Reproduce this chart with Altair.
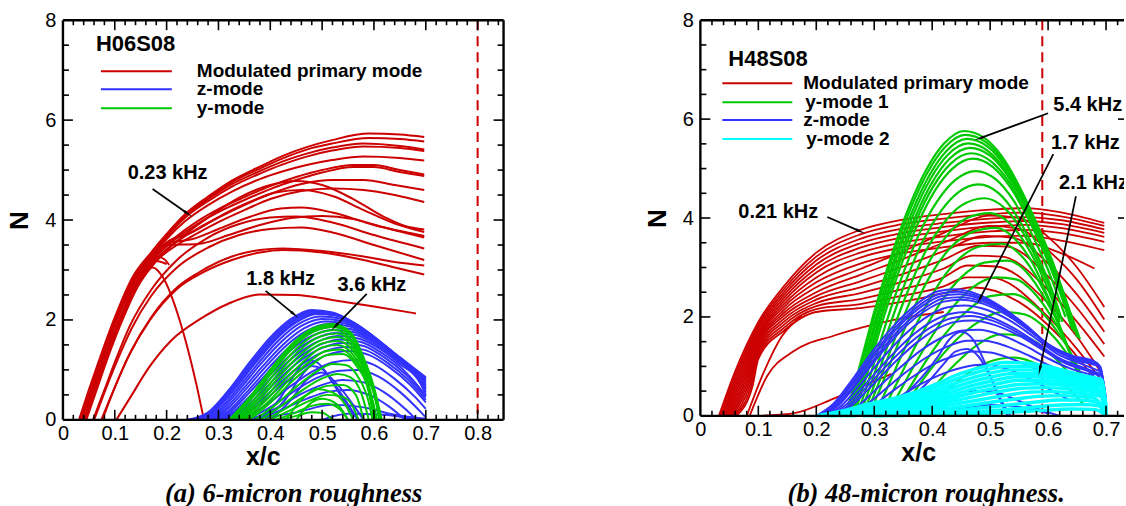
import math
import altair as alt
import pandas as pd

FONT = "Liberation Sans"
SERIF = "Liberation Serif"
RED, BLUE, GREEN, CYAN = "#cc0000", "#3333ff", "#00c800", "#00ffff"

# panel geometry (plot areas, in pixels) and x ranges
W_L, H_L, XMAX_L = 441, 400, 0.85
W_R, H_R, XMAX_R = 424, 396, 0.731

# ---------------- H06S08 : N-factor curves (x/c, N) ----------------
h06_primary = [
    [(0.031, 0), (0.05, 0.6), (0.07, 1.2), (0.10, 2.05), (0.134, 2.85), (0.17, 3.35), (0.2, 3.72), (0.236, 4.12), (0.28, 4.47), (0.326, 4.79), (0.38, 5.07), (0.423, 5.28), (0.47, 5.46), (0.519, 5.6), (0.59, 5.73), (0.65, 5.71), (0.697, 5.66)],
    [(0.033, 0), (0.052, 0.6), (0.072, 1.2), (0.10, 1.98), (0.134, 2.8), (0.17, 3.32), (0.2, 3.7), (0.236, 4.1), (0.28, 4.45), (0.326, 4.76), (0.38, 5.03), (0.423, 5.23), (0.47, 5.41), (0.519, 5.53), (0.59, 5.64), (0.65, 5.62), (0.697, 5.57)],
    [(0.035, 0), (0.054, 0.6), (0.074, 1.2), (0.10, 1.95), (0.134, 2.78), (0.17, 3.3), (0.2, 3.68), (0.236, 4.08), (0.28, 4.42), (0.326, 4.72), (0.38, 4.98), (0.423, 5.17), (0.47, 5.33), (0.519, 5.45), (0.58, 5.53), (0.65, 5.48), (0.697, 5.41)],
    [(0.036, 0), (0.055, 0.6), (0.075, 1.2), (0.10, 1.93), (0.134, 2.76), (0.17, 3.28), (0.2, 3.66), (0.236, 4.05), (0.28, 4.38), (0.326, 4.67), (0.38, 4.93), (0.423, 5.11), (0.47, 5.27), (0.519, 5.39), (0.58, 5.47), (0.65, 5.44), (0.697, 5.38)],
    [(0.037, 0), (0.056, 0.6), (0.076, 1.2), (0.10, 1.9), (0.134, 2.72), (0.17, 3.25), (0.2, 3.62), (0.236, 3.98), (0.28, 4.3), (0.326, 4.57), (0.38, 4.82), (0.423, 4.97), (0.47, 5.1), (0.519, 5.2), (0.58, 5.27), (0.65, 5.24), (0.697, 5.19)],
    [(0.040, 0), (0.06, 0.6), (0.08, 1.2), (0.105, 1.9), (0.14, 2.72), (0.18, 3.3), (0.22, 3.68), (0.26, 3.98), (0.3, 4.22), (0.35, 4.46), (0.4, 4.68), (0.45, 4.86), (0.5, 5.0), (0.56, 5.1), (0.6, 5.1), (0.65, 5.0), (0.697, 4.91)],
    [(0.041, 0), (0.061, 0.6), (0.081, 1.2), (0.106, 1.88), (0.141, 2.7), (0.18, 3.27), (0.22, 3.64), (0.26, 3.93), (0.3, 4.16), (0.35, 4.4), (0.4, 4.62), (0.45, 4.8), (0.5, 4.95), (0.56, 5.06), (0.6, 5.06), (0.65, 4.96), (0.697, 4.88)],
    [(0.042, 0), (0.062, 0.6), (0.082, 1.2), (0.107, 1.87), (0.142, 2.68), (0.18, 3.22), (0.22, 3.57), (0.26, 3.83), (0.3, 4.05), (0.35, 4.3), (0.4, 4.52), (0.46, 4.72), (0.52, 4.8), (0.58, 4.8), (0.64, 4.7), (0.697, 4.6)],
    [(0.043, 0), (0.063, 0.6), (0.083, 1.2), (0.108, 1.86), (0.143, 2.66), (0.18, 3.18), (0.22, 3.5), (0.26, 3.74), (0.3, 3.96), (0.35, 4.2), (0.4, 4.42), (0.46, 4.58), (0.52, 4.63), (0.58, 4.6), (0.64, 4.5), (0.697, 4.36)],
    [(0.045, 0), (0.065, 0.6), (0.085, 1.2), (0.11, 1.88), (0.145, 2.68), (0.18, 3.18), (0.22, 3.58), (0.28, 4.05), (0.34, 4.45), (0.4, 4.7), (0.45, 4.78), (0.5, 4.7), (0.56, 4.42), (0.62, 4.06), (0.66, 3.88), (0.697, 3.81)],
    [(0.04, 0), (0.06, 0.6), (0.08, 1.2), (0.105, 1.9), (0.14, 2.72), (0.17, 3.2), (0.2, 3.55), (0.25, 3.76), (0.3, 4.06), (0.36, 4.36), (0.41, 4.55), (0.46, 4.6), (0.52, 4.48), (0.58, 4.2), (0.64, 3.93), (0.697, 3.76)],
    [(0.041, 0), (0.061, 0.6), (0.081, 1.2), (0.106, 1.9), (0.141, 2.7), (0.17, 3.18), (0.2, 3.53), (0.25, 3.62), (0.3, 3.82), (0.36, 4.06), (0.42, 4.23), (0.46, 4.25), (0.52, 4.15), (0.6, 3.9), (0.697, 3.68)],
    [(0.042, 0), (0.062, 0.6), (0.082, 1.2), (0.107, 1.88), (0.142, 2.68), (0.17, 3.15), (0.2, 3.5), (0.26, 3.52), (0.32, 3.7), (0.38, 3.9), (0.44, 4.04), (0.5, 4.08), (0.56, 4.02), (0.62, 3.85), (0.697, 3.65)],
    [(0.058, 0), (0.08, 0.6), (0.1, 1.15), (0.13, 1.9), (0.17, 2.6), (0.22, 3.2), (0.28, 3.65), (0.34, 3.92), (0.4, 4.05), (0.45, 4.07), (0.52, 3.95), (0.6, 3.7), (0.697, 3.43)],
    [(0.06, 0), (0.082, 0.6), (0.102, 1.12), (0.132, 1.82), (0.17, 2.48), (0.22, 3.05), (0.28, 3.45), (0.34, 3.7), (0.4, 3.82), (0.46, 3.85), (0.52, 3.75), (0.6, 3.5), (0.697, 3.2)],
    [(0.076, 0), (0.1, 0.65), (0.13, 1.35), (0.17, 2.05), (0.22, 2.65), (0.262, 2.95), (0.326, 3.27), (0.38, 3.4), (0.423, 3.43), (0.5, 3.38), (0.58, 3.27), (0.64, 3.16), (0.697, 3.09)],
    [(0.074, 0), (0.098, 0.6), (0.128, 1.3), (0.168, 2.0), (0.22, 2.62), (0.27, 2.95), (0.326, 3.2), (0.38, 3.35), (0.423, 3.4), (0.5, 3.35), (0.58, 3.2), (0.64, 3.05), (0.697, 2.91)],
    [(0.103, 0), (0.13, 0.45), (0.166, 1.05), (0.21, 1.6), (0.262, 2.0), (0.32, 2.33), (0.379, 2.51), (0.45, 2.5), (0.519, 2.4), (0.6, 2.27), (0.681, 2.13)],
    [(0.038, 0), (0.057, 0.6), (0.077, 1.2), (0.10, 1.88), (0.134, 2.65), (0.16, 2.98), (0.173, 3.05), (0.193, 2.85), (0.225, 2.0), (0.257, 0.73), (0.272, 0)],
    [(0.036, 0), (0.055, 0.6), (0.075, 1.2), (0.10, 1.92), (0.134, 2.74), (0.16, 3.12), (0.18, 3.27), (0.195, 3.22), (0.205, 3.1)],
    [(0.038, 0), (0.057, 0.6), (0.077, 1.2), (0.10, 1.9), (0.134, 2.7), (0.16, 3.06), (0.18, 3.18), (0.2, 3.12)],
]

h06_zmode = [
    [(0.24, 0), (0.28, 0.15), (0.32, 0.6), (0.36, 1.15), (0.40, 1.65), (0.44, 2.02), (0.48, 2.2), (0.52, 2.15), (0.56, 1.95), (0.6, 1.65), (0.65, 1.25), (0.7, 0.85)],
    [(0.243, 0), (0.283, 0.15), (0.323, 0.6), (0.363, 1.14), (0.403, 1.64), (0.443, 2.0), (0.483, 2.18), (0.523, 2.13), (0.563, 1.93), (0.603, 1.63), (0.653, 1.22), (0.7, 0.83)],
    [(0.245, 0), (0.285, 0.15), (0.325, 0.6), (0.365, 1.13), (0.405, 1.62), (0.445, 1.98), (0.485, 2.16), (0.525, 2.11), (0.565, 1.91), (0.605, 1.61), (0.655, 1.2), (0.7, 0.82)],
    [(0.248, 0), (0.288, 0.15), (0.328, 0.6), (0.368, 1.12), (0.408, 1.61), (0.448, 1.96), (0.488, 2.14), (0.528, 2.1), (0.568, 1.9), (0.608, 1.6), (0.658, 1.17), (0.7, 0.8)],
    [(0.25, 0), (0.29, 0.15), (0.33, 0.6), (0.37, 1.12), (0.41, 1.6), (0.45, 1.95), (0.49, 2.12), (0.53, 2.08), (0.57, 1.88), (0.61, 1.58), (0.66, 1.15), (0.7, 0.78)],
    [(0.255, 0), (0.295, 0.15), (0.335, 0.6), (0.375, 1.11), (0.415, 1.58), (0.455, 1.92), (0.495, 2.07), (0.535, 2.03), (0.575, 1.83), (0.615, 1.53), (0.66, 1.13), (0.7, 0.75)],
    [(0.26, 0), (0.3, 0.15), (0.34, 0.6), (0.38, 1.1), (0.42, 1.55), (0.46, 1.88), (0.5, 2.02), (0.54, 1.98), (0.58, 1.78), (0.62, 1.48), (0.66, 1.12), (0.7, 0.72)],
    [(0.265, 0), (0.305, 0.15), (0.345, 0.59), (0.385, 1.07), (0.425, 1.51), (0.465, 1.83), (0.505, 1.97), (0.545, 1.93), (0.585, 1.73), (0.625, 1.43), (0.665, 1.07), (0.7, 0.69)],
    [(0.27, 0), (0.31, 0.15), (0.35, 0.58), (0.39, 1.05), (0.43, 1.48), (0.47, 1.78), (0.51, 1.92), (0.55, 1.88), (0.59, 1.68), (0.63, 1.38), (0.67, 1.02), (0.7, 0.66)],
    [(0.275, 0), (0.315, 0.14), (0.355, 0.56), (0.395, 1.02), (0.435, 1.44), (0.475, 1.73), (0.515, 1.86), (0.555, 1.82), (0.595, 1.62), (0.635, 1.33), (0.675, 0.96), (0.7, 0.63)],
    [(0.28, 0), (0.32, 0.14), (0.36, 0.55), (0.40, 1.0), (0.44, 1.4), (0.48, 1.68), (0.52, 1.8), (0.56, 1.76), (0.6, 1.57), (0.64, 1.28), (0.68, 0.9), (0.7, 0.6)],
    [(0.285, 0), (0.325, 0.13), (0.365, 0.52), (0.405, 0.96), (0.445, 1.35), (0.485, 1.62), (0.525, 1.74), (0.565, 1.7), (0.605, 1.5), (0.645, 1.2), (0.685, 0.82), (0.7, 0.55)],
    [(0.29, 0), (0.33, 0.13), (0.37, 0.5), (0.41, 0.93), (0.45, 1.3), (0.49, 1.56), (0.53, 1.68), (0.57, 1.63), (0.61, 1.43), (0.65, 1.12), (0.69, 0.72), (0.7, 0.5)],
    [(0.295, 0), (0.335, 0.12), (0.375, 0.47), (0.415, 0.89), (0.455, 1.25), (0.495, 1.5), (0.535, 1.61), (0.575, 1.56), (0.615, 1.34), (0.655, 1.02), (0.695, 0.55), (0.7, 0.48)],
    [(0.30, 0), (0.34, 0.12), (0.38, 0.45), (0.42, 0.85), (0.46, 1.2), (0.5, 1.44), (0.54, 1.54), (0.58, 1.48), (0.62, 1.25), (0.66, 0.92), (0.7, 0.45)],
    [(0.305, 0), (0.345, 0.11), (0.385, 0.42), (0.425, 0.8), (0.465, 1.14), (0.505, 1.37), (0.545, 1.46), (0.585, 1.39), (0.625, 1.15), (0.665, 0.81), (0.7, 0.4)],
    [(0.31, 0), (0.35, 0.11), (0.39, 0.4), (0.43, 0.76), (0.47, 1.08), (0.51, 1.3), (0.55, 1.38), (0.59, 1.3), (0.63, 1.05), (0.67, 0.7), (0.7, 0.35)],
    [(0.32, 0), (0.36, 0.1), (0.4, 0.36), (0.44, 0.68), (0.48, 0.96), (0.52, 1.15), (0.56, 1.2), (0.6, 1.1), (0.64, 0.82), (0.68, 0.45), (0.7, 0.22)],
    [(0.33, 0), (0.37, 0.09), (0.41, 0.32), (0.45, 0.6), (0.49, 0.84), (0.53, 0.98), (0.57, 1.0), (0.61, 0.86), (0.65, 0.56), (0.69, 0.16), (0.7, 0.05)],
    [(0.34, 0), (0.38, 0.08), (0.42, 0.28), (0.46, 0.52), (0.5, 0.7), (0.54, 0.8), (0.58, 0.75), (0.62, 0.55), (0.66, 0.22), (0.68, 0.02)],
    [(0.35, 0), (0.39, 0.07), (0.43, 0.24), (0.47, 0.42), (0.51, 0.56), (0.55, 0.6), (0.59, 0.5), (0.63, 0.26), (0.66, 0.0)],
    [(0.36, 0), (0.45, 0.15), (0.52, 0.3), (0.58, 0.25), (0.64, 0.1), (0.7, 0.02)],
    [(0.38, 0), (0.42, 0.45), (0.45, 0.95), (0.47, 1.2), (0.49, 1.15), (0.52, 0.75), (0.55, 0.25), (0.57, 0)],
    [(0.39, 0), (0.43, 0.42), (0.46, 0.88), (0.48, 1.08), (0.5, 1.02), (0.53, 0.62), (0.56, 0.15), (0.57, 0)],
    [(0.4, 0), (0.44, 0.4), (0.47, 0.8), (0.5, 0.95), (0.53, 0.7), (0.56, 0.3), (0.58, 0)],
    [(0.5, 0), (0.55, 0.12), (0.62, 0.1), (0.68, 0.0)],
]

h06_ymode = [
    [(0.32, 0), (0.36, 0.45), (0.40, 1.0), (0.44, 1.5), (0.48, 1.82), (0.52, 1.92), (0.555, 1.75), (0.58, 1.25), (0.60, 0.65), (0.615, 0.0)],
    [(0.322, 0), (0.362, 0.45), (0.402, 0.99), (0.442, 1.48), (0.482, 1.8), (0.521, 1.89), (0.555, 1.72), (0.58, 1.22), (0.60, 0.62), (0.614, 0)],
    [(0.325, 0), (0.365, 0.44), (0.405, 0.97), (0.445, 1.46), (0.485, 1.77), (0.522, 1.86), (0.555, 1.69), (0.58, 1.2), (0.60, 0.6), (0.613, 0)],
    [(0.33, 0), (0.37, 0.42), (0.41, 0.95), (0.45, 1.42), (0.49, 1.72), (0.525, 1.8), (0.555, 1.62), (0.58, 1.15), (0.6, 0.55), (0.612, 0)],
    [(0.335, 0), (0.375, 0.41), (0.415, 0.92), (0.455, 1.38), (0.495, 1.66), (0.528, 1.73), (0.558, 1.54), (0.583, 1.05), (0.603, 0.42), (0.611, 0)],
    [(0.34, 0), (0.38, 0.4), (0.42, 0.9), (0.46, 1.33), (0.5, 1.6), (0.53, 1.66), (0.56, 1.45), (0.585, 0.95), (0.605, 0.3), (0.61, 0)],
    [(0.345, 0), (0.385, 0.38), (0.425, 0.86), (0.465, 1.28), (0.5, 1.53), (0.53, 1.58), (0.56, 1.38), (0.585, 0.88), (0.606, 0)],
    [(0.35, 0), (0.39, 0.37), (0.43, 0.82), (0.47, 1.22), (0.5, 1.45), (0.53, 1.5), (0.56, 1.3), (0.585, 0.8), (0.605, 0)],
    [(0.355, 0), (0.395, 0.35), (0.435, 0.78), (0.475, 1.16), (0.505, 1.37), (0.535, 1.41), (0.562, 1.2), (0.588, 0.68), (0.602, 0)],
    [(0.36, 0), (0.4, 0.34), (0.44, 0.75), (0.48, 1.1), (0.51, 1.3), (0.54, 1.32), (0.565, 1.1), (0.59, 0.55), (0.6, 0)],
    [(0.37, 0), (0.41, 0.3), (0.45, 0.66), (0.49, 0.97), (0.52, 1.12), (0.545, 1.1), (0.57, 0.85), (0.59, 0.35), (0.597, 0)],
    [(0.38, 0), (0.42, 0.27), (0.46, 0.58), (0.5, 0.83), (0.53, 0.92), (0.555, 0.85), (0.575, 0.55), (0.59, 0)],
    [(0.39, 0), (0.43, 0.23), (0.47, 0.5), (0.51, 0.68), (0.54, 0.7), (0.565, 0.5), (0.58, 0)],
    [(0.40, 0), (0.44, 0.2), (0.48, 0.4), (0.51, 0.5), (0.54, 0.46), (0.56, 0.25), (0.57, 0)],
    [(0.41, 0), (0.45, 0.15), (0.48, 0.28), (0.51, 0.32), (0.535, 0.2), (0.55, 0)],
    [(0.42, 0), (0.45, 0.08), (0.48, 0.15), (0.5, 0.14), (0.52, 0)],
    [(0.43, 0), (0.46, 0.4), (0.49, 0.62), (0.52, 0.55), (0.545, 0.3), (0.56, 0)],
    [(0.45, 0), (0.48, 0.35), (0.5, 0.42), (0.53, 0.3), (0.55, 0)],
]

# ---------------- H48S08 ----------------
h48_primary = [
    [(0.032, 0), (0.06, 0.9), (0.1, 1.9), (0.144, 2.62), (0.2, 3.3), (0.276, 3.76), (0.345, 3.96), (0.42, 4.08), (0.5, 4.17), (0.56, 4.2), (0.62, 4.12), (0.697, 3.9)],
    [(0.034, 0), (0.062, 0.88), (0.1, 1.85), (0.144, 2.56), (0.2, 3.22), (0.276, 3.67), (0.345, 3.87), (0.42, 3.99), (0.5, 4.08), (0.56, 4.11), (0.62, 4.04), (0.697, 3.84)],
    [(0.036, 0), (0.064, 0.86), (0.1, 1.8), (0.144, 2.5), (0.2, 3.14), (0.276, 3.58), (0.345, 3.78), (0.42, 3.9), (0.5, 3.99), (0.56, 4.02), (0.62, 3.96), (0.697, 3.77)],
    [(0.038, 0), (0.066, 0.84), (0.1, 1.75), (0.144, 2.44), (0.2, 3.06), (0.276, 3.49), (0.345, 3.69), (0.42, 3.82), (0.5, 3.91), (0.56, 3.94), (0.62, 3.88), (0.697, 3.7)],
    [(0.040, 0), (0.068, 0.82), (0.1, 1.7), (0.144, 2.38), (0.2, 2.98), (0.276, 3.4), (0.345, 3.6), (0.42, 3.73), (0.5, 3.83), (0.56, 3.86), (0.62, 3.8), (0.697, 3.62)],
    [(0.042, 0), (0.07, 0.8), (0.1, 1.65), (0.144, 2.32), (0.2, 2.9), (0.276, 3.3), (0.345, 3.5), (0.42, 3.63), (0.5, 3.73), (0.56, 3.76), (0.62, 3.7), (0.697, 3.52)],
    [(0.044, 0), (0.072, 0.78), (0.1, 1.6), (0.144, 2.26), (0.2, 2.8), (0.276, 3.2), (0.345, 3.4), (0.42, 3.53), (0.5, 3.62), (0.56, 3.64), (0.62, 3.55), (0.697, 3.35)],
    [(0.046, 0), (0.074, 0.76), (0.1, 1.55), (0.144, 2.2), (0.2, 2.7), (0.276, 3.08), (0.345, 3.28), (0.42, 3.41), (0.5, 3.5), (0.56, 3.5), (0.62, 3.3), (0.68, 2.98)],
    [(0.048, 0), (0.076, 0.74), (0.1, 1.5), (0.144, 2.14), (0.2, 2.6), (0.276, 2.97), (0.345, 3.3), (0.42, 3.7), (0.5, 4.05), (0.55, 4.0), (0.6, 3.62), (0.65, 3.0), (0.697, 2.2)],
    [(0.05, 0), (0.078, 0.72), (0.1, 1.45), (0.144, 2.08), (0.2, 2.5), (0.276, 2.85), (0.345, 3.15), (0.42, 3.5), (0.5, 3.84), (0.55, 3.78), (0.6, 3.35), (0.65, 2.75), (0.697, 1.95)],
    [(0.052, 0), (0.08, 0.7), (0.1, 1.4), (0.144, 2.02), (0.2, 2.42), (0.276, 2.72), (0.345, 3.0), (0.42, 3.33), (0.49, 3.64), (0.54, 3.6), (0.6, 3.08), (0.65, 2.45), (0.697, 1.7)],
    [(0.054, 0), (0.082, 0.68), (0.1, 1.35), (0.144, 1.96), (0.2, 2.35), (0.276, 2.6), (0.345, 2.85), (0.42, 3.16), (0.48, 3.44), (0.53, 3.42), (0.6, 2.82), (0.65, 2.18), (0.697, 1.45)],
    [(0.056, 0), (0.084, 0.66), (0.1, 1.3), (0.144, 1.9), (0.2, 2.28), (0.276, 2.48), (0.345, 2.7), (0.42, 2.98), (0.47, 3.24), (0.52, 3.22), (0.6, 2.55), (0.65, 1.9), (0.697, 1.2)],
    [(0.058, 0), (0.086, 0.64), (0.1, 1.25), (0.144, 1.84), (0.2, 2.22), (0.276, 2.36), (0.345, 2.55), (0.42, 2.8), (0.46, 3.04), (0.51, 3.02), (0.6, 2.28), (0.65, 1.6), (0.69, 0.9)],
    [(0.06, 0), (0.088, 0.62), (0.1, 1.2), (0.144, 1.78), (0.2, 2.16), (0.276, 2.26), (0.345, 2.42), (0.42, 2.62), (0.46, 2.8), (0.5, 2.8), (0.6, 2.0), (0.65, 1.35), (0.69, 0.75)],
    [(0.062, 0), (0.09, 0.6), (0.1, 1.15), (0.144, 1.72), (0.2, 2.1), (0.276, 2.18), (0.345, 2.3), (0.42, 2.48), (0.47, 2.6), (0.55, 2.3), (0.62, 1.6), (0.69, 0.6)],
    [(0.08, 0), (0.11, 0.9), (0.14, 1.6), (0.175, 2.02)],
    [(0.085, 0), (0.115, 0.8), (0.16, 1.3), (0.23, 1.62), (0.3, 1.85), (0.36, 2.0), (0.42, 2.1)],
    [(0.1, 0), (0.16, 0.05), (0.23, 0.35), (0.28, 0.6), (0.33, 0.85)],
]

h48_ymode1 = [
    [(0.25, 0), (0.27, 0.8), (0.3, 2.1), (0.33, 3.25), (0.36, 4.22), (0.39, 4.98), (0.42, 5.5), (0.455, 5.76), (0.49, 5.62), (0.52, 5.25), (0.55, 4.65), (0.58, 3.9), (0.61, 3.05), (0.635, 2.2), (0.655, 1.55)],
    [(0.252, 0), (0.272, 0.79), (0.302, 2.08), (0.332, 3.22), (0.362, 4.17), (0.392, 4.92), (0.422, 5.43), (0.457, 5.68), (0.492, 5.54), (0.522, 5.16), (0.552, 4.55), (0.582, 3.8), (0.612, 2.95), (0.637, 2.1), (0.652, 1.58)],
    [(0.255, 0), (0.275, 0.78), (0.305, 2.05), (0.335, 3.18), (0.365, 4.12), (0.395, 4.86), (0.425, 5.36), (0.46, 5.6), (0.495, 5.45), (0.525, 5.06), (0.555, 4.45), (0.585, 3.7), (0.615, 2.85), (0.64, 2.0), (0.65, 1.6)],
    [(0.257, 0), (0.277, 0.77), (0.307, 2.02), (0.337, 3.14), (0.367, 4.06), (0.397, 4.79), (0.427, 5.28), (0.462, 5.51), (0.497, 5.35), (0.527, 4.96), (0.557, 4.35), (0.587, 3.6), (0.617, 2.74), (0.642, 1.85)],
    [(0.26, 0), (0.28, 0.76), (0.31, 2.0), (0.34, 3.1), (0.37, 4.0), (0.4, 4.72), (0.43, 5.2), (0.465, 5.42), (0.5, 5.26), (0.53, 4.86), (0.56, 4.25), (0.59, 3.5), (0.62, 2.62), (0.645, 1.7)],
    [(0.262, 0), (0.282, 0.75), (0.312, 1.97), (0.342, 3.05), (0.372, 3.94), (0.402, 4.64), (0.432, 5.1), (0.467, 5.31), (0.502, 5.14), (0.532, 4.74), (0.562, 4.12), (0.592, 3.38), (0.622, 2.48), (0.642, 1.75)],
    [(0.265, 0), (0.285, 0.74), (0.315, 1.94), (0.345, 3.0), (0.375, 3.88), (0.405, 4.56), (0.435, 5.0), (0.47, 5.2), (0.505, 5.03), (0.535, 4.62), (0.565, 4.0), (0.595, 3.25), (0.625, 2.35), (0.64, 1.8)],
    [(0.27, 0), (0.29, 0.7), (0.32, 1.86), (0.35, 2.88), (0.38, 3.74), (0.41, 4.36), (0.44, 4.77), (0.475, 4.95), (0.51, 4.78), (0.54, 4.36), (0.57, 3.72), (0.6, 2.95), (0.63, 2.0)],
    [(0.275, 0), (0.295, 0.66), (0.325, 1.76), (0.355, 2.74), (0.385, 3.56), (0.415, 4.14), (0.445, 4.52), (0.48, 4.68), (0.515, 4.5), (0.545, 4.06), (0.575, 3.4), (0.605, 2.6), (0.625, 1.9)],
    [(0.28, 0), (0.3, 0.62), (0.33, 1.66), (0.36, 2.58), (0.39, 3.36), (0.42, 3.9), (0.45, 4.25), (0.49, 4.4), (0.525, 4.2), (0.555, 3.74), (0.585, 3.05), (0.61, 2.35), (0.62, 1.9)],
    [(0.285, 0), (0.305, 0.58), (0.335, 1.54), (0.365, 2.4), (0.395, 3.12), (0.425, 3.64), (0.46, 4.0), (0.5, 4.1), (0.535, 3.88), (0.565, 3.4), (0.595, 2.7), (0.62, 1.95)],
    [(0.29, 0), (0.31, 0.54), (0.34, 1.42), (0.37, 2.22), (0.4, 2.9), (0.43, 3.38), (0.47, 3.72), (0.51, 3.8), (0.545, 3.55), (0.575, 3.05), (0.6, 2.4), (0.63, 1.5)],
    [(0.3, 0), (0.32, 0.5), (0.35, 1.3), (0.38, 2.02), (0.41, 2.64), (0.44, 3.1), (0.48, 3.42), (0.52, 3.48), (0.555, 3.22), (0.585, 2.7), (0.61, 2.1), (0.64, 1.2)],
    [(0.31, 0), (0.33, 0.45), (0.36, 1.16), (0.39, 1.82), (0.42, 2.38), (0.45, 2.8), (0.49, 3.1), (0.53, 3.14), (0.565, 2.88), (0.595, 2.36), (0.62, 1.8), (0.645, 1.0)],
    [(0.32, 0), (0.34, 0.4), (0.37, 1.04), (0.4, 1.62), (0.43, 2.12), (0.47, 2.6), (0.51, 2.8), (0.545, 2.76), (0.575, 2.5), (0.605, 2.02), (0.63, 1.5), (0.65, 0.9)],
    [(0.33, 0), (0.36, 0.55), (0.39, 1.12), (0.42, 1.62), (0.46, 2.12), (0.5, 2.42), (0.54, 2.46), (0.58, 2.2), (0.61, 1.8), (0.64, 1.25), (0.66, 0.75)],
    [(0.34, 0), (0.37, 0.5), (0.4, 0.98), (0.44, 1.52), (0.48, 1.9), (0.52, 2.1), (0.56, 2.05), (0.6, 1.72), (0.63, 1.3), (0.66, 0.7)],
    [(0.36, 0), (0.4, 0.55), (0.44, 1.05), (0.48, 1.45), (0.52, 1.65), (0.56, 1.6), (0.6, 1.3), (0.64, 0.8), (0.67, 0.3)],
    [(0.38, 0), (0.42, 0.45), (0.46, 0.85), (0.5, 1.1), (0.54, 1.18), (0.58, 1.05), (0.62, 0.72), (0.66, 0.25)],
]

h48_zmode = [
    [(0.2, 0), (0.23, 0.25), (0.26, 0.7), (0.3, 1.35), (0.34, 1.9), (0.38, 2.32), (0.41, 2.52), (0.44, 2.56), (0.48, 2.45), (0.52, 2.2), (0.56, 1.85), (0.6, 1.45), (0.64, 1.22), (0.68, 1.1), (0.69, 1.0), (0.7, 0.3)],
    [(0.203, 0), (0.233, 0.245), (0.263, 0.69), (0.303, 1.32), (0.343, 1.87), (0.383, 2.28), (0.413, 2.47), (0.443, 2.51), (0.483, 2.4), (0.523, 2.16), (0.563, 1.81), (0.603, 1.42), (0.643, 1.2), (0.683, 1.07), (0.697, 0.6)],
    [(0.205, 0), (0.235, 0.24), (0.265, 0.68), (0.305, 1.3), (0.345, 1.84), (0.385, 2.24), (0.415, 2.42), (0.445, 2.46), (0.485, 2.36), (0.525, 2.12), (0.565, 1.78), (0.605, 1.4), (0.645, 1.18), (0.685, 1.05), (0.698, 0.5)],
    [(0.208, 0), (0.238, 0.235), (0.268, 0.66), (0.308, 1.27), (0.348, 1.8), (0.388, 2.19), (0.418, 2.37), (0.448, 2.4), (0.488, 2.31), (0.528, 2.08), (0.568, 1.74), (0.608, 1.37), (0.648, 1.15), (0.688, 1.01), (0.7, 0.35)],
    [(0.21, 0), (0.24, 0.23), (0.27, 0.65), (0.31, 1.24), (0.35, 1.76), (0.39, 2.14), (0.42, 2.31), (0.45, 2.35), (0.49, 2.26), (0.53, 2.03), (0.57, 1.7), (0.61, 1.34), (0.65, 1.12), (0.69, 0.98), (0.7, 0.15)],
    [(0.215, 0), (0.245, 0.22), (0.275, 0.62), (0.315, 1.18), (0.355, 1.67), (0.395, 2.03), (0.425, 2.19), (0.455, 2.23), (0.495, 2.14), (0.535, 1.92), (0.575, 1.6), (0.615, 1.26), (0.655, 1.06), (0.69, 0.9)],
    [(0.22, 0), (0.25, 0.21), (0.28, 0.58), (0.32, 1.1), (0.36, 1.57), (0.4, 1.91), (0.43, 2.06), (0.46, 2.1), (0.5, 2.0), (0.54, 1.78), (0.58, 1.48), (0.62, 1.16), (0.66, 0.98), (0.69, 0.85)],
    [(0.225, 0), (0.255, 0.2), (0.285, 0.56), (0.325, 1.06), (0.365, 1.51), (0.405, 1.84), (0.435, 1.98), (0.465, 2.02), (0.505, 1.92), (0.545, 1.7), (0.585, 1.41), (0.625, 1.11), (0.665, 0.94), (0.69, 0.82)],
    [(0.23, 0), (0.26, 0.2), (0.29, 0.54), (0.33, 1.02), (0.37, 1.45), (0.41, 1.77), (0.44, 1.9), (0.47, 1.93), (0.51, 1.83), (0.55, 1.62), (0.59, 1.34), (0.63, 1.06), (0.67, 0.9), (0.69, 0.8)],
    [(0.24, 0), (0.27, 0.18), (0.3, 0.5), (0.34, 0.93), (0.38, 1.32), (0.42, 1.6), (0.45, 1.72), (0.48, 1.74), (0.52, 1.63), (0.56, 1.42), (0.6, 1.16), (0.64, 0.95), (0.68, 0.82)],
    [(0.25, 0), (0.28, 0.17), (0.31, 0.45), (0.35, 0.84), (0.39, 1.18), (0.43, 1.42), (0.46, 1.52), (0.49, 1.52), (0.53, 1.4), (0.57, 1.2), (0.61, 0.98), (0.65, 0.85), (0.69, 0.75)],
    [(0.26, 0), (0.29, 0.15), (0.32, 0.4), (0.36, 0.74), (0.4, 1.03), (0.44, 1.22), (0.47, 1.3), (0.5, 1.28), (0.54, 1.14), (0.58, 0.95), (0.62, 0.8), (0.67, 0.7)],
    [(0.28, 0), (0.31, 0.14), (0.34, 0.36), (0.38, 0.64), (0.42, 0.86), (0.46, 1.0), (0.49, 1.04), (0.52, 0.98), (0.56, 0.8), (0.6, 0.55), (0.64, 0.3)],
    [(0.3, 0), (0.34, 0.3), (0.38, 0.75), (0.41, 1.2), (0.43, 1.55), (0.45, 1.7), (0.47, 1.55), (0.49, 1.1), (0.51, 0.5), (0.53, 0)],
    [(0.31, 0), (0.35, 0.25), (0.39, 0.65), (0.42, 1.05), (0.44, 1.3), (0.46, 1.35), (0.48, 1.2), (0.5, 0.8), (0.52, 0.3), (0.535, 0)],
    [(0.34, 0), (0.38, 0.15), (0.42, 0.35), (0.46, 0.5), (0.5, 0.5), (0.54, 0.35), (0.58, 0.15), (0.62, 0)],
    [(0.4, 0), (0.45, 0.15), (0.5, 0.22), (0.55, 0.18), (0.6, 0.05)],
]

h48_ymode2 = [
    [(0.2, 0), (0.245, 0.1), (0.29, 0.24), (0.335, 0.36), (0.376, 0.5), (0.41, 0.66), (0.445, 0.84), (0.485, 0.98), (0.525, 1.08), (0.56, 1.07), (0.6, 1.0), (0.64, 0.88), (0.675, 0.78), (0.692, 0.74), (0.7, 0.2)],
    [(0.205, 0), (0.25, 0.09), (0.295, 0.22), (0.34, 0.34), (0.38, 0.47), (0.415, 0.62), (0.45, 0.78), (0.49, 0.92), (0.53, 1.0), (0.565, 1.0), (0.6, 0.94), (0.64, 0.84), (0.675, 0.75), (0.692, 0.7), (0.7, 0.15)],
    [(0.21, 0), (0.255, 0.08), (0.3, 0.2), (0.345, 0.31), (0.385, 0.43), (0.42, 0.57), (0.455, 0.72), (0.495, 0.85), (0.535, 0.93), (0.57, 0.93), (0.605, 0.88), (0.64, 0.8), (0.675, 0.72), (0.692, 0.67), (0.7, 0.1)],
    [(0.215, 0), (0.26, 0.07), (0.305, 0.18), (0.35, 0.28), (0.39, 0.4), (0.425, 0.52), (0.46, 0.66), (0.5, 0.78), (0.54, 0.86), (0.575, 0.86), (0.61, 0.82), (0.645, 0.75), (0.678, 0.68), (0.692, 0.64), (0.7, 0.08)],
    [(0.22, 0), (0.265, 0.06), (0.31, 0.16), (0.355, 0.25), (0.395, 0.36), (0.43, 0.47), (0.465, 0.6), (0.505, 0.71), (0.545, 0.79), (0.58, 0.79), (0.615, 0.76), (0.65, 0.7), (0.68, 0.64), (0.692, 0.6), (0.7, 0.05)],
    [(0.225, 0), (0.27, 0.05), (0.315, 0.14), (0.36, 0.22), (0.4, 0.32), (0.435, 0.42), (0.47, 0.54), (0.51, 0.64), (0.55, 0.72), (0.585, 0.72), (0.62, 0.69), (0.655, 0.64), (0.685, 0.58), (0.7, 0.03)],
    [(0.23, 0), (0.275, 0.04), (0.32, 0.12), (0.365, 0.2), (0.405, 0.28), (0.44, 0.37), (0.475, 0.48), (0.515, 0.57), (0.555, 0.64), (0.59, 0.65), (0.625, 0.62), (0.66, 0.58), (0.69, 0.52), (0.7, 0.02)],
    [(0.24, 0), (0.285, 0.04), (0.33, 0.1), (0.375, 0.17), (0.41, 0.24), (0.445, 0.32), (0.48, 0.41), (0.52, 0.5), (0.56, 0.56), (0.595, 0.57), (0.63, 0.55), (0.665, 0.51), (0.69, 0.46), (0.7, 0.02)],
    [(0.25, 0), (0.295, 0.03), (0.34, 0.08), (0.385, 0.14), (0.42, 0.2), (0.455, 0.27), (0.49, 0.34), (0.53, 0.42), (0.57, 0.48), (0.605, 0.49), (0.64, 0.47), (0.67, 0.44), (0.69, 0.4), (0.7, 0.01)],
    [(0.26, 0), (0.31, 0.03), (0.355, 0.07), (0.4, 0.12), (0.44, 0.17), (0.475, 0.23), (0.51, 0.29), (0.55, 0.35), (0.59, 0.4), (0.625, 0.41), (0.655, 0.39), (0.68, 0.36), (0.7, 0.01)],
    [(0.28, 0), (0.33, 0.02), (0.38, 0.05), (0.42, 0.09), (0.46, 0.13), (0.5, 0.18), (0.54, 0.23), (0.58, 0.28), (0.62, 0.32), (0.65, 0.32), (0.68, 0.29), (0.7, 0.0)],
    [(0.3, 0), (0.36, 0.02), (0.42, 0.05), (0.47, 0.08), (0.52, 0.12), (0.57, 0.17), (0.62, 0.22), (0.66, 0.23), (0.69, 0.2), (0.7, 0.0)],
    [(0.33, 0), (0.4, 0.02), (0.47, 0.04), (0.53, 0.07), (0.59, 0.11), (0.64, 0.14), (0.68, 0.13), (0.7, 0.0)],
]

# annotations: label, label position, alignment, arrow tail, arrow tip (data units)
h06_notes = [
    ("0.23 kHz", 0.202, 4.94, "center", (0.173, 4.62), (0.239, 4.14)),
    ("1.8 kHz", 0.420, 2.82, "center", (0.391, 2.58), (0.445, 2.12)),
    ("3.6 kHz", 0.596, 2.70, "center", (0.586, 2.52), (0.526, 1.88)),
]
h48_notes = [
    ("0.21 kHz", 0.1345, 4.12, "center", (0.219, 4.02), (0.274, 3.74)),
    ("5.4 kHz", 0.609, 6.28, "left", (0.600, 6.12), (0.484, 5.62)),
    ("1.7 kHz", 0.605, 5.52, "left", (0.609, 5.29), (0.483, 2.38)),
    ("2.1 kHz", 0.619, 4.71, "left", (0.648, 4.44), (0.586, 0.95)),
]

X_LABELS_L = [0, 0.1, 0.2, 0.3, 0.4, 0.5, 0.6, 0.7, 0.8]
X_LABELS_R = [0, 0.1, 0.2, 0.3, 0.4, 0.5, 0.6, 0.7]
Y_LABELS = [0, 2, 4, 6, 8]


def curves_df(curves):
    rows = []
    for cid, pts in enumerate(curves):
        for k, (x, y) in enumerate(pts):
            rows.append({"cid": cid, "k": k, "x": x, "y": y})
    return pd.DataFrame(rows)


def one_row():
    return pd.DataFrame({"t": [0]})


def text_px(label, px, py, size=19, align="left", font=FONT, weight="bold", style="normal"):
    return alt.Chart(pd.DataFrame({"t": [label]})).mark_text(
        font=font, fontSize=size, fontWeight=weight, fontStyle=style, align=align,
        baseline="middle", color="black",
    ).encode(x=alt.value(px), y=alt.value(py), text="t:N")


def seg_px(x1, x2, y, color, width=2):
    return alt.Chart(one_row()).mark_rule(color=color, strokeWidth=width).encode(
        x=alt.value(x1), x2=alt.value(x2), y=alt.value(y))


def build_panel(W, H, xmax, xlabels, families, dash_x, tag, legend, notes, caption, cap_x,
                xtitle_x, right_frame, clip_notes):
    xs = alt.Scale(domain=[0, xmax], nice=False, zero=False)
    ys = alt.Scale(domain=[0, 8], nice=False, zero=False)
    xaxis = alt.Axis(values=xlabels, format=".1~f", labelFlush=False, labelOverlap=False,
                     ticks=False, domain=False, grid=False, labelFont=FONT, labelFontSize=20,
                     labelColor="black", labelPadding=4, title="x/c", titleFont=FONT,
                     titleFontSize=25, titleFontWeight="bold", titleColor="black",
                     titleX=xtitle_x, titleY=37, titleBaseline="middle", titleAlign="center")
    yaxis = alt.Axis(values=Y_LABELS, format="d", ticks=False, domain=False, grid=False,
                     labelFont=FONT, labelFontSize=20, labelColor="black", labelPadding=7,
                     title="N", titleFont=FONT, titleFontSize=26, titleFontWeight="bold",
                     titleColor="black", titleX=-43, titleY=H / 2, titleAngle=270,
                     titleBaseline="middle", titleAlign="center")

    def X(field):
        return alt.X(field, type="quantitative", scale=xs, axis=xaxis)

    def Y(field):
        return alt.Y(field, type="quantitative", scale=ys, axis=yaxis)

    layers = []
    # dashed reference station
    layers.append(alt.Chart(pd.DataFrame({"x": [dash_x]})).mark_rule(
        color=RED, strokeWidth=2, strokeDash=[10, 6]).encode(
        x=X("x"), y=alt.value(0), y2=alt.value(H)))

    for curves, color, width in families:
        layers.append(alt.Chart(curves_df(curves)).mark_line(
            color=color, strokeWidth=width, interpolate="monotone").encode(
            x=X("x"), y=Y("y"), detail="cid:N", order="k:Q"))

    # in-plot legend
    layers.append(text_px(tag[0], tag[1], tag[2], size=22, align="left"))
    for label, color, lx1, lx2, ly, tx in legend:
        layers.append(seg_px(lx1, lx2, ly, color, 2))
        layers.append(text_px(label, tx, ly, size=19, align="left"))

    # frequency annotations with arrows
    sx, sy = W / xmax, H / 8.0
    rows = []
    for label, tx, ty, align, (x1, y1), (x2, y2) in notes:
        dx = (x2 - x1) * sx
        dy = -(y2 - y1) * sy
        ang = math.degrees(math.atan2(dx, -dy)) % 360
        rows.append({"label": label, "tx": tx, "ty": ty, "align": align,
                     "x1": x1, "y1": y1, "x2": x2, "y2": y2, "ang": ang})
    nd = pd.DataFrame(rows)
    layers.append(alt.Chart(nd).mark_rule(color="black", strokeWidth=1.7).encode(
        x=X("x1"), y=Y("y1"), x2="x2:Q", y2="y2:Q"))
    layers.append(alt.Chart(nd).mark_point(shape="wedge", filled=True, color="black",
                                           opacity=1, size=130).encode(
        x=X("x2"), y=Y("y2"), angle=alt.Angle("ang:Q", scale=None)))
    for align in ["center", "left"]:
        sub = nd[nd["align"] == align]
        if len(sub):
            layers.append(alt.Chart(sub).mark_text(
                font=FONT, fontSize=20, fontWeight="bold", align=align, baseline="middle",
                color="black", clip=clip_notes).encode(
                x=X("tx"), y=Y("ty"), text="label:N"))

    # inward tick marks on the frame
    x_major = [v for v in xlabels if 0 < v < xmax]
    x_minor = [round(i * 0.02, 2) for i in range(1, int(xmax / 0.02) + 1)
               if i % 5 and i * 0.02 < xmax]
    y_major = [2, 4, 6]
    y_minor = [0.5, 1, 1.5, 2.5, 3, 3.5, 4.5, 5, 5.5, 6.5, 7, 7.5]

    def xticks(vals, length):
        d = pd.DataFrame({"x": vals})
        bottom = alt.Chart(d).mark_rule(color="black", strokeWidth=1.6).encode(
            x=X("x"), y=alt.value(H), y2=alt.value(H - length))
        top = alt.Chart(d).mark_rule(color="black", strokeWidth=1.6).encode(
            x=X("x"), y=alt.value(0), y2=alt.value(length))
        return [bottom, top]

    def yticks(vals, length, right_len):
        d = pd.DataFrame({"y": vals})
        out = [alt.Chart(d).mark_rule(color="black", strokeWidth=1.6).encode(
            y=Y("y"), x=alt.value(0), x2=alt.value(length))]
        if right_len:
            out.append(alt.Chart(d).mark_rule(color="black", strokeWidth=1.6).encode(
                y=Y("y"), x=alt.value(W), x2=alt.value(W - right_len)))
        return out

    layers += xticks(x_major, 10) + xticks(x_minor, 5)
    layers += yticks(y_major, 10, 10 if right_frame else 6)
    layers += yticks(y_minor, 6, 6 if right_frame else 0)

    # frame
    layers.append(seg_px(0, W, 0, "black", 2.4))
    layers.append(seg_px(0, W, H, "black", 2.4))
    layers.append(alt.Chart(one_row()).mark_rule(color="black", strokeWidth=2.4).encode(
        x=alt.value(0), y=alt.value(0), y2=alt.value(H)))
    if right_frame:
        layers.append(alt.Chart(one_row()).mark_rule(color="black", strokeWidth=2.4).encode(
            x=alt.value(W), y=alt.value(0), y2=alt.value(H)))

    # sub-figure caption
    layers.append(text_px(caption, cap_x, 474, size=26.5, align="center", font=SERIF,
                          weight="bold", style="italic"))

    return alt.layer(*layers).properties(width=W, height=H)


left = build_panel(
    W_L, H_L, XMAX_L, X_LABELS_L,
    [(h06_primary, RED, 2.0), (h06_zmode, BLUE, 2.0), (h06_ymode, GREEN, 2.0)],
    0.8, ("H06S08", 33, 24),
    [("Modulated primary mode", RED, 38, 109, 51, 134),
     ("z-mode", BLUE, 38, 109, 69, 134),
     ("y-mode", GREEN, 38, 109, 88, 134)],
    h06_notes, "(a) 6-micron roughness", 231, 200, True, False)

right = build_panel(
    W_R, H_R, XMAX_R, X_LABELS_R,
    [(h48_primary, RED, 1.8), (h48_ymode1, GREEN, 2.2), (h48_zmode, BLUE, 2.0),
     (h48_ymode2, CYAN, 3.4)],
    0.59, ("H48S08", 28, 39),
    [("Modulated primary mode", RED, 22, 92, 63, 103),
     ("y-mode 1", GREEN, 22, 92, 82, 105),
     ("z-mode", BLUE, 22, 92, 100, 103),
     ("y-mode 2", CYAN, 22, 92, 119, 106)],
    h48_notes, "(b) 48-micron roughness.", 226, 218, False, True)

chart = alt.hconcat(left, right, spacing=197, bounds="flush").configure_view(
    stroke=None).properties(padding={"left": 7, "top": 10, "right": 0, "bottom": 0})

chart.save("out.html", embed_options={"renderer": "svg", "actions": False})
